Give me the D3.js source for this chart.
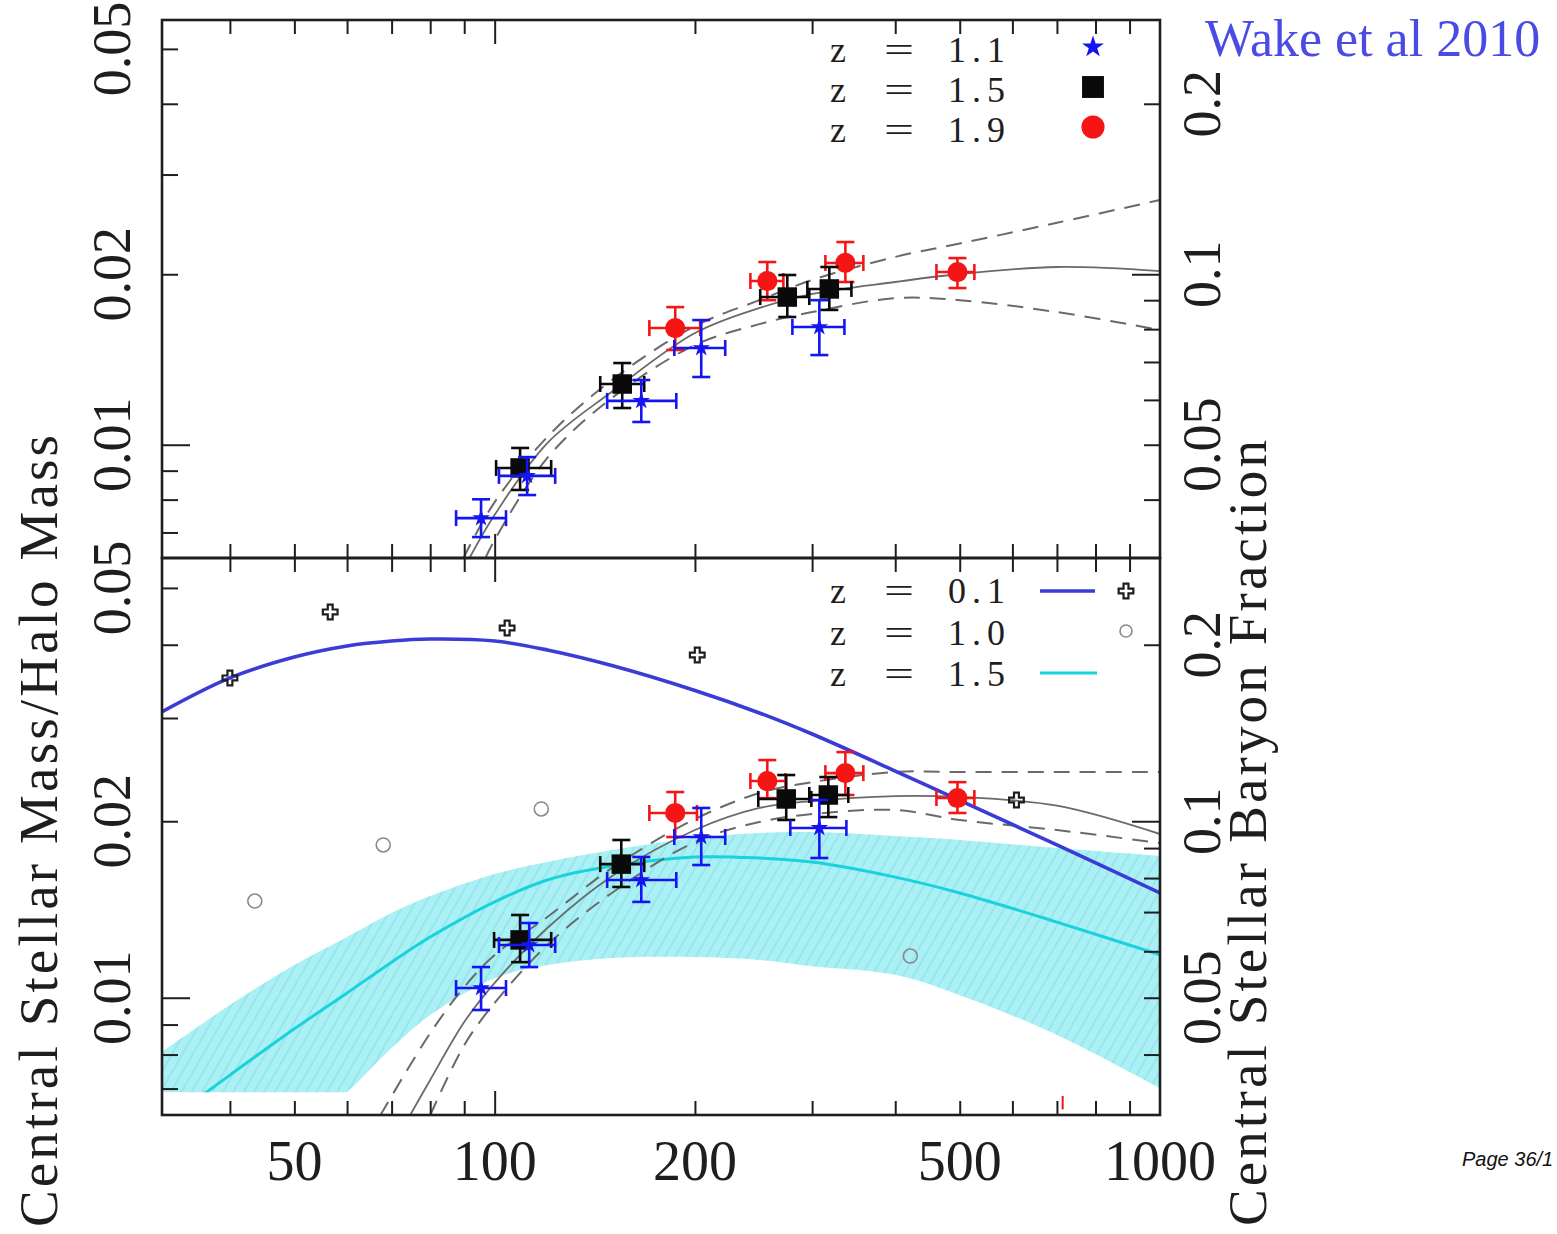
<!DOCTYPE html>
<html>
<head>
<meta charset="utf-8">
<script src="https://cdn.jsdelivr.net/npm/d3@7"></script>
<style>
  html, body { margin: 0; padding: 0; background: #fff; }
  svg { display: block; }
</style>
</head>
<body>
<svg id="chart" width="1557" height="1234"></svg>
<script>
// ---------------- data ----------------
// halo mass axis ticks and labels
const xLabelValues = [50, 100, 200, 500, 1000];
const xMinorTicks = [40, 50, 60, 70, 80, 90, 200, 300, 400, 500, 600, 700, 800, 900];
const xMajorTicks = [100];
// stellar-to-halo mass ratio axis (left)
const yLabelValues = [0.01, 0.02, 0.05];
const yMinorTicks = [0.007, 0.008, 0.009, 0.02, 0.03, 0.04, 0.05];
const yMajorTicks = [0.01];
// stellar baryon fraction axis (right) = ratio * baryonRatio
const baryonRatio = 5;
const fLabelValues = [0.05, 0.1, 0.2];
const fMinorTicks = [0.04, 0.05, 0.06, 0.07, 0.08, 0.09, 0.2];
const fMajorTicks = [0.1];

// measurements: [Mhalo, ratio, MhaloLo, MhaloHi, ratioLo, ratioHi]
const topZ11 = [
  [95.4, 0.00742, 87.5, 104.0, 0.00687, 0.00801],
  [111.9, 0.00881, 101.5, 123.3, 0.00815, 0.00951],
  [166.1, 0.01195, 147.6, 187.5, 0.01097, 0.01301],
  [204.4, 0.01482, 186.2, 222.1, 0.01317, 0.0166],
  [307.6, 0.01614, 280.2, 335.5, 0.0144, 0.018]
];
const topZ15 = [
  [109.2, 0.0091, 100.5, 121.6, 0.00832, 0.00987],
  [155.5, 0.0128, 144.1, 167.8, 0.01161, 0.01394],
  [275.3, 0.01823, 250.7, 297.1, 0.01681, 0.01994],
  [318.4, 0.01884, 295.1, 343.7, 0.0173, 0.0206]
];
const topZ19 = [
  [186.8, 0.01607, 170.8, 203.7, 0.0147, 0.0175],
  [256.9, 0.01946, 242.3, 271.6, 0.018, 0.02102],
  [336.6, 0.02094, 314.1, 358.2, 0.01938, 0.0228],
  [496.1, 0.02018, 461.3, 526.0, 0.01891, 0.02136]
];
const botZ11 = [
  [95.4, 0.01039, 87.5, 104.0, 0.00953, 0.01128],
  [112.7, 0.0123, 101.5, 123.3, 0.01128, 0.01341],
  [166.1, 0.01588, 147.6, 187.5, 0.01457, 0.01738],
  [204.4, 0.0188, 186.2, 222.1, 0.01684, 0.02107],
  [307.6, 0.01948, 278.2, 337.8, 0.01731, 0.02174]
];
const botZ15 = [
  [109.2, 0.01255, 99.8, 121.6, 0.0115, 0.01384],
  [155.0, 0.0169, 144.1, 167.8, 0.01545, 0.01858],
  [274.3, 0.02183, 249.0, 299.2, 0.0201, 0.02398],
  [317.3, 0.02217, 297.1, 340.0, 0.02033, 0.02379]
];
const botZ19 = [
  [186.8, 0.02066, 170.8, 201.4, 0.0188, 0.02243],
  [256.9, 0.02342, 242.3, 273.6, 0.0219, 0.02543],
  [336.6, 0.02416, 314.1, 358.2, 0.02217, 0.02624],
  [496.1, 0.02191, 461.3, 526.0, 0.02066, 0.02332]
];

// HOD fits: [Mhalo, ratio]
const topFit = [[91.6, 0.0063], [100, 0.00752], [120, 0.01007], [150, 0.0124], [200, 0.01575], [250, 0.01744], [300, 0.01846], [400, 0.01938], [500, 0.02002], [700, 0.0206], [1000, 0.02026]];
const topFitHi = [[89.7, 0.0063], [100, 0.00792], [120, 0.01032], [150, 0.01301], [200, 0.0162], [250, 0.018], [300, 0.01954], [400, 0.02146], [500, 0.02266], [700, 0.02466], [1000, 0.02705]];
const topFitLo = [[96.8, 0.0063], [100, 0.00679], [120, 0.00948], [150, 0.01209], [200, 0.015], [250, 0.01633], [300, 0.01715], [400, 0.01815], [500, 0.018], [700, 0.01715], [1000, 0.01594]];
const botFit = [[74.6, 0.0063], [80, 0.00724], [90, 0.00909], [100, 0.0106], [120, 0.01315], [150, 0.01612], [200, 0.01932], [250, 0.02107], [300, 0.02165], [400, 0.02208], [500, 0.022], [700, 0.02126], [1000, 0.01902]];
const botFitHi = [[67.3, 0.0063], [80, 0.0087], [90, 0.01043], [100, 0.01183], [120, 0.01373], [150, 0.01664], [200, 0.02017], [250, 0.02234], [300, 0.02332], [400, 0.02427], [500, 0.02427], [700, 0.02427], [1000, 0.02427]];
const botFitLo = [[80, 0.0063], [90, 0.0083], [100, 0.0098], [120, 0.0123], [150, 0.01509], [200, 0.01843], [250, 0.01994], [300, 0.02057], [400, 0.0209], [500, 0.0201], [700, 0.01932], [1000, 0.01836]];

// comparison models
const modelX = [31.6, 40, 50, 60, 70, 80, 100, 120, 150, 200, 250, 300, 400, 500, 700, 1000];
const z01Model = [0.03072, 0.03511, 0.03812, 0.03981, 0.04059, 0.0409, 0.04059, 0.03918, 0.03686, 0.03342, 0.0306, 0.02817, 0.02436, 0.0217, 0.01822, 0.01509];
const z15Model = [0.00607, 0.00738, 0.00885, 0.01019, 0.0115, 0.01269, 0.01457, 0.01588, 0.01677, 0.01738, 0.01731, 0.01704, 0.01606, 0.01509, 0.01346, 0.01183];
const z15Upper = [0.00808, 0.00972, 0.01137, 0.01269, 0.01395, 0.01491, 0.01626, 0.01704, 0.01786, 0.01873, 0.0191, 0.01917, 0.01887, 0.01858, 0.018, 0.01745];
const z15Lower = [0.0040, 0.0049, 0.0058, 0.0069, 0.00821, 0.00934, 0.0108, 0.01137, 0.01169, 0.01173, 0.0116, 0.01132, 0.01094, 0.0101, 0.00864, 0.00701];
const z15Floor = 0.0069;
const z01Points = [[40.0, 0.03511], [56.6, 0.0455], [104.4, 0.04272], [201.6, 0.03842], [608.5, 0.02174]];
const z10Points = [[43.6, 0.01462], [68.0, 0.01822], [117.5, 0.02099], [421.4, 0.01178]];
const strayMark = [714, 0.00645, 0.0068];

const topLegend = ["1.1", "1.5", "1.9"];
const botLegend = ["0.1", "1.0", "1.5"];

// ---------------- layout ----------------
const serif = "'Liberation Serif', 'Times New Roman', serif";
const ink = "#1e1e1e";
const cBlue = "#1515f2", cRed = "#f51515", cBlack = "#0a0a0a";
const cZ01 = "#3b3bd6", cCyan = "#18d3dc", cBand = "#aaf0f4", cGray = "#6a6a6a";

const left = 162, right = 1160;
const panels = [
  { key: "top", top: 20, bottom: 558 },
  { key: "bot", top: 558, bottom: 1115 }
];
const yDomain = [Math.pow(10, -2.2), Math.pow(10, -1.25)];

const x = d3.scaleLog().domain([Math.pow(10, 1.5), 1000]).range([left, right]);
panels.forEach(p => {
  p.y = d3.scaleLog().domain(yDomain).range([p.bottom, p.top]);
  p.f = d3.scaleLog().domain(yDomain.map(v => v * baryonRatio)).range([p.bottom, p.top]);
});
const [pTop, pBot] = panels;

const svg = d3.select("#chart");
const defs = svg.append("defs");

panels.forEach(p => {
  defs.append("clipPath").attr("id", "clip-" + p.key)
    .append("rect").attr("x", left).attr("y", p.top)
    .attr("width", right - left).attr("height", p.bottom - p.top);
});
defs.append("clipPath").attr("id", "clip-band")
  .append("rect").attr("x", left).attr("y", pBot.top)
  .attr("width", right - left).attr("height", pBot.y(z15Floor) - pBot.top);

const hatch = defs.append("pattern").attr("id", "hatch")
  .attr("patternUnits", "userSpaceOnUse").attr("width", 9).attr("height", 9)
  .attr("patternTransform", "rotate(30)");
hatch.append("rect").attr("width", 9).attr("height", 9).attr("fill", cBand);
hatch.append("line").attr("x1", 1).attr("y1", 0).attr("x2", 1).attr("y2", 9)
  .attr("stroke", "#8fe2ea").attr("stroke-width", 1.3);

// ---------------- helpers ----------------
const smooth = d3.curveCatmullRom.alpha(0.5);
const curveLine = y => d3.line().x(d => x(d[0])).y(d => y(d[1])).curve(smooth);

function tickAxis(g, axis) {
  g.call(axis.tickFormat("").tickSizeOuter(0));
  g.select(".domain").remove();
  g.selectAll(".tick line").attr("stroke", ink).attr("stroke-width", 2);
}

function drawTicks(p) {
  const g = svg.append("g");
  const xIn = v => v.filter(t => t > x.domain()[0] && t < x.domain()[1]);
  // bottom and top edges, ticks pointing inward
  tickAxis(g.append("g").attr("transform", `translate(0,${p.bottom})`), d3.axisBottom(x).tickValues(xIn(xMinorTicks)).tickSize(-14));
  tickAxis(g.append("g").attr("transform", `translate(0,${p.bottom})`), d3.axisBottom(x).tickValues(xMajorTicks).tickSize(-24));
  tickAxis(g.append("g").attr("transform", `translate(0,${p.top})`), d3.axisTop(x).tickValues(xIn(xMinorTicks)).tickSize(-14));
  tickAxis(g.append("g").attr("transform", `translate(0,${p.top})`), d3.axisTop(x).tickValues(xMajorTicks).tickSize(-24));
  // left: mass ratio; right: baryon fraction
  tickAxis(g.append("g").attr("transform", `translate(${left},0)`), d3.axisLeft(p.y).tickValues(yMinorTicks).tickSize(-16));
  tickAxis(g.append("g").attr("transform", `translate(${left},0)`), d3.axisLeft(p.y).tickValues(yMajorTicks).tickSize(-28));
  tickAxis(g.append("g").attr("transform", `translate(${right},0)`), d3.axisRight(p.f).tickValues(fMinorTicks).tickSize(-16));
  tickAxis(g.append("g").attr("transform", `translate(${right},0)`), d3.axisRight(p.f).tickValues(fMajorTicks).tickSize(-28));
  // tick labels, set sideways
  g.selectAll(null).data(yLabelValues).join("text")
    .attr("transform", d => `translate(130,${p.y(d)}) rotate(-90)`)
    .attr("text-anchor", "middle").attr("font-family", serif).attr("font-size", 54)
    .attr("fill", ink).text(d => String(d));
  g.selectAll(null).data(fLabelValues).join("text")
    .attr("transform", d => `translate(1220,${p.f(d)}) rotate(-90)`)
    .attr("text-anchor", "middle").attr("font-family", serif).attr("font-size", 54)
    .attr("fill", ink).text(d => String(d));
}

function drawFrame(p) {
  svg.append("rect").attr("x", left).attr("y", p.top)
    .attr("width", right - left).attr("height", p.bottom - p.top)
    .attr("fill", "none").attr("stroke", ink).attr("stroke-width", 2.6);
}

function drawFits(g, y, fit, hi, lo) {
  const line = curveLine(y);
  g.append("path").attr("d", line(fit)).attr("fill", "none").attr("stroke", cGray).attr("stroke-width", 1.8);
  [hi, lo].forEach(c => g.append("path").attr("d", line(c)).attr("fill", "none")
    .attr("stroke", cGray).attr("stroke-width", 2).attr("stroke-dasharray", "16,10"));
}

function errorBars(g, data, y, color) {
  const eb = g.append("g").attr("stroke", color).attr("stroke-width", 2.6);
  const cap = 9, capH = 8;
  eb.selectAll(null).data(data).join("line")
    .attr("x1", d => x(d[2])).attr("x2", d => x(d[3])).attr("y1", d => y(d[1])).attr("y2", d => y(d[1]));
  eb.selectAll(null).data(data).join("line")
    .attr("x1", d => x(d[0])).attr("x2", d => x(d[0])).attr("y1", d => y(d[4])).attr("y2", d => y(d[5]));
  [2, 3].forEach(i => eb.selectAll(null).data(data).join("line")
    .attr("x1", d => x(d[i])).attr("x2", d => x(d[i])).attr("y1", d => y(d[1]) - capH).attr("y2", d => y(d[1]) + capH));
  [4, 5].forEach(i => eb.selectAll(null).data(data).join("line")
    .attr("x1", d => x(d[0]) - cap).attr("x2", d => x(d[0]) + cap).attr("y1", d => y(d[i])).attr("y2", d => y(d[i])));
}

const starPath = d3.symbol().type(d3.symbolStar).size(95)();
const squarePath = d3.symbol().type(d3.symbolSquare).size(380)();
const circlePath = d3.symbol().type(d3.symbolCircle).size(320)();

function markers(g, data, y, path, color) {
  g.append("g").selectAll(null).data(data).join("path")
    .attr("transform", d => `translate(${x(d[0])},${y(d[1])})`)
    .attr("d", path).attr("fill", color);
}

function drawMeasurements(g, y, z11, z15, z19) {
  errorBars(g, z19, y, cRed); markers(g, z19, y, circlePath, cRed);
  errorBars(g, z15, y, cBlack); markers(g, z15, y, squarePath, cBlack);
  errorBars(g, z11, y, cBlue); markers(g, z11, y, starPath, cBlue);
}

// ---------------- top panel ----------------
const gTop = svg.append("g").attr("clip-path", "url(#clip-top)");
drawFits(gTop, pTop.y, topFit, topFitHi, topFitLo);
drawMeasurements(gTop, pTop.y, topZ11, topZ15, topZ19);

// ---------------- bottom panel ----------------
const gBot = svg.append("g").attr("clip-path", "url(#clip-bot)");
const bandG = gBot.append("g").attr("clip-path", "url(#clip-band)");
const modelRows = modelX.map((m, i) => ({ m, lo: z15Lower[i], hi: z15Upper[i], mid: z15Model[i], z01: z01Model[i] }));
bandG.append("path")
  .attr("d", d3.area().x(d => x(d.m)).y0(d => pBot.y(d.lo)).y1(d => pBot.y(d.hi)).curve(smooth)(modelRows))
  .attr("fill", "url(#hatch)");
bandG.append("path")
  .attr("d", d3.line().x(d => x(d.m)).y(d => pBot.y(d.mid)).curve(smooth)(modelRows))
  .attr("fill", "none").attr("stroke", cCyan).attr("stroke-width", 3);

drawFits(gBot, pBot.y, botFit, botFitHi, botFitLo);

gBot.append("path")
  .attr("d", d3.line().x(d => x(d.m)).y(d => pBot.y(d.z01)).curve(smooth)(modelRows))
  .attr("fill", "none").attr("stroke", cZ01).attr("stroke-width", 3.6);

const crossPath = d3.symbol().type(d3.symbolCross).size(120)();
gBot.append("g").selectAll(null).data(z01Points).join("path")
  .attr("transform", d => `translate(${x(d[0])},${pBot.y(d[1])})`)
  .attr("d", crossPath).attr("fill", "none").attr("stroke", ink).attr("stroke-width", 2.2);
gBot.append("g").selectAll(null).data(z10Points).join("circle")
  .attr("cx", d => x(d[0])).attr("cy", d => pBot.y(d[1])).attr("r", 7)
  .attr("fill", "none").attr("stroke", "#8a8a8a").attr("stroke-width", 1.6);

drawMeasurements(gBot, pBot.y, botZ11, botZ15, botZ19);

gBot.append("line")
  .attr("x1", x(strayMark[0])).attr("x2", x(strayMark[0]))
  .attr("y1", pBot.y(strayMark[1])).attr("y2", pBot.y(strayMark[2]))
  .attr("stroke", cRed).attr("stroke-width", 2);

// ---------------- axes ----------------
panels.forEach(p => { drawTicks(p); drawFrame(p); });

svg.append("g").selectAll(null).data(xLabelValues).join("text")
  .attr("x", d => x(d)).attr("y", 1180)
  .attr("text-anchor", "middle").attr("font-family", serif).attr("font-size", 56)
  .attr("fill", ink).text(d => String(d));

svg.append("text")
  .attr("transform", "translate(57,435) rotate(-90)")
  .attr("text-anchor", "end").attr("font-family", serif).attr("font-size", 55)
  .attr("textLength", 792).attr("lengthAdjust", "spacing")
  .attr("fill", ink).text("Central Stellar Mass/Halo Mass");

svg.append("text")
  .attr("transform", "translate(1266,440) rotate(-90)")
  .attr("text-anchor", "end").attr("font-family", serif).attr("font-size", 55)
  .attr("textLength", 786).attr("lengthAdjust", "spacing")
  .attr("fill", ink).text("Central Stellar Baryon Fraction");

// ---------------- legends ----------------
// rows sit 40px apart, so the labels stay compact enough not to collide;
// "z", "=" and the redshift are set in their own columns
function legendRows(values, baselines) {
  const rows = svg.append("g").selectAll(null).data(values).join("text")
    .attr("y", (d, i) => baselines[i])
    .attr("font-family", serif).attr("font-size", 36).attr("fill", ink);
  rows.append("tspan").attr("x", 830).text("z");
  rows.append("tspan").attr("x", 884).attr("textLength", 30).attr("lengthAdjust", "spacingAndGlyphs").text("=");
  rows.append("tspan").attr("x", 948).attr("letter-spacing", 6).text(d => d);
}

const topBase = [62, 102, 142];
legendRows(topLegend, topBase);
const legSymbols = [
  d3.symbol().type(d3.symbolStar).size(150)(),
  d3.symbol().type(d3.symbolSquare).size(480)(),
  d3.symbol().type(d3.symbolCircle).size(420)()
];
const legColors = [cBlue, cBlack, cRed];
svg.append("g").selectAll(null).data(legSymbols).join("path")
  .attr("transform", (d, i) => `translate(1093,${topBase[i] - 15})`)
  .attr("d", d => d).attr("fill", (d, i) => legColors[i]);

const botBase = [603, 645, 686];
legendRows(botLegend, botBase);
const legBot = svg.append("g");
legBot.append("line").attr("x1", 1040).attr("x2", 1095)
  .attr("y1", 591).attr("y2", 591)
  .attr("stroke", cZ01).attr("stroke-width", 3.6);
legBot.append("path").attr("transform", "translate(1126,591)")
  .attr("d", crossPath).attr("fill", "none").attr("stroke", ink).attr("stroke-width", 2.2);
legBot.append("circle").attr("cx", 1126).attr("cy", 631).attr("r", 6)
  .attr("fill", "none").attr("stroke", "#8a8a8a").attr("stroke-width", 1.6);
legBot.append("line").attr("x1", 1040).attr("x2", 1097)
  .attr("y1", 673).attr("y2", 673)
  .attr("stroke", cCyan).attr("stroke-width", 3);

// ---------------- annotations ----------------
svg.append("text").attr("x", 1205).attr("y", 56)
  .attr("font-family", serif).attr("font-size", 52).attr("fill", "#4a4ae4")
  .text("Wake et al 2010");
svg.append("text").attr("x", 1462).attr("y", 1166)
  .attr("font-family", "'Liberation Sans', Arial, sans-serif").attr("font-style", "italic")
  .attr("font-size", 20).attr("fill", "#111")
  .text("Page 36/1");
</script>
</body>
</html>
